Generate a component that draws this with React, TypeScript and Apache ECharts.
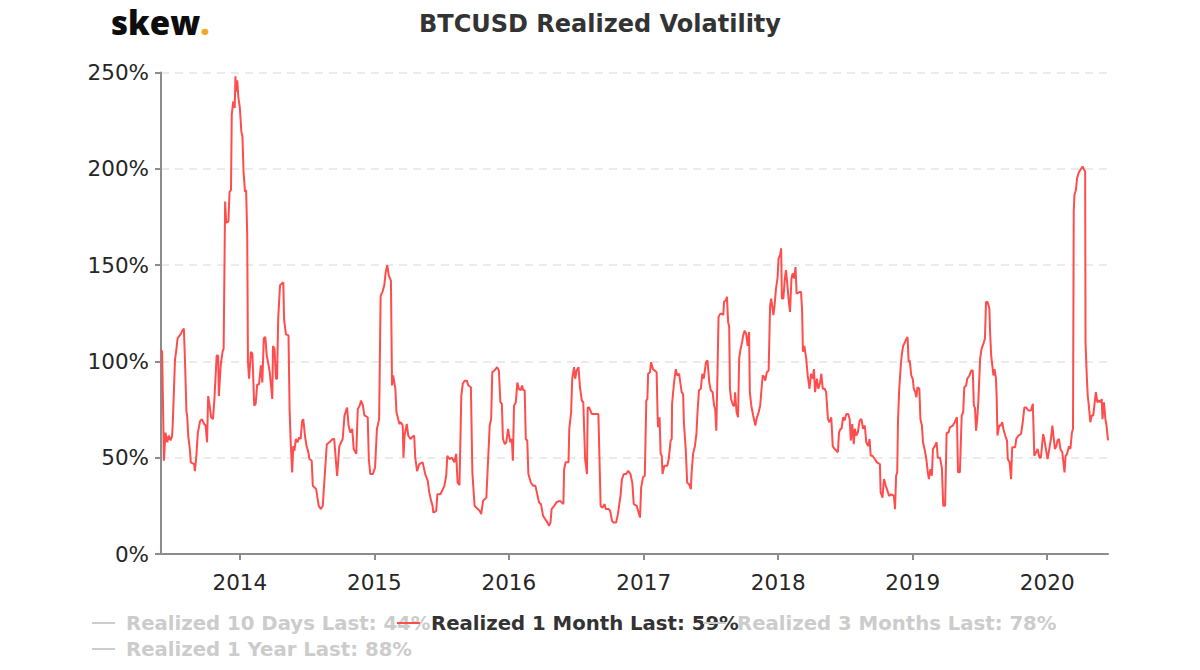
import React, { useEffect, useRef } from "react";
import * as echarts from "echarts";

const TITLE = "BTCUSD Realized Volatility";
const NAME_10D = "Realized 10 Days Last: 44%";
const NAME_1M = "Realized 1 Month Last: 59%";
const NAME_3M = "Realized 3 Months Last: 78%";
const NAME_1Y = "Realized 1 Year Last: 88%";

const yTicks = [0, 50, 100, 150, 200, 250];

// Realized 1 month volatility (%), by year
const vol2013: [string, number][] = [
  ["2013-06-01", 106], ["2013-06-04", 105], ["2013-06-09", 48.4], ["2013-06-13", 63], ["2013-06-18", 58],
  ["2013-06-22", 61.5], ["2013-06-27", 59], ["2013-07-01", 61], ["2013-07-03", 68], ["2013-07-09", 101],
  ["2013-07-12", 105], ["2013-07-16", 112], ["2013-07-24", 114], ["2013-07-29", 116], ["2013-08-02", 117],
  ["2013-08-05", 101], ["2013-08-09", 74], ["2013-08-11", 72], ["2013-08-14", 61], ["2013-08-18", 55],
  ["2013-08-21", 47.6], ["2013-08-30", 46.7], ["2013-09-01", 43], ["2013-09-05", 51], ["2013-09-09", 63],
  ["2013-09-15", 69], ["2013-09-20", 70], ["2013-09-26", 67.5], ["2013-09-30", 66.7], ["2013-10-04", 58],
  ["2013-10-07", 82], ["2013-10-11", 77], ["2013-10-15", 71], ["2013-10-20", 70], ["2013-10-24", 80.5],
  ["2013-10-30", 103], ["2013-11-03", 103], ["2013-11-05", 82], ["2013-11-10", 98], ["2013-11-15", 105],
  ["2013-11-18", 106.6], ["2013-11-22", 183], ["2013-11-25", 172], ["2013-12-01", 172.6], ["2013-12-04", 188],
  ["2013-12-08", 189], ["2013-12-10", 228], ["2013-12-14", 235], ["2013-12-18", 231.6], ["2013-12-20", 248],
  ["2013-12-22", 240], ["2013-12-25", 246], ["2013-12-28", 237],
];

const vol2014: [string, number][] = [
  ["2014-01-01", 231.6], ["2014-01-05", 219.4], ["2014-01-08", 216.8], ["2014-01-11", 198.6], ["2014-01-15", 188],
  ["2014-01-18", 189], ["2014-01-21", 165.6], ["2014-01-23", 99.7], ["2014-01-26", 91], ["2014-01-31", 105],
  ["2014-02-04", 104], ["2014-02-09", 77], ["2014-02-13", 78], ["2014-02-17", 88], ["2014-02-22", 88],
  ["2014-02-27", 98], ["2014-03-03", 89], ["2014-03-07", 112], ["2014-03-11", 112.7], ["2014-03-15", 103],
  ["2014-03-20", 98], ["2014-03-23", 94.4], ["2014-03-30", 80.5], ["2014-04-01", 108], ["2014-04-05", 106.6],
  ["2014-04-09", 91], ["2014-04-12", 91], ["2014-04-15", 122], ["2014-04-20", 139.6], ["2014-04-25", 140.5],
  ["2014-04-29", 141], ["2014-05-01", 122], ["2014-05-06", 114], ["2014-05-13", 113.5], ["2014-05-16", 75],
  ["2014-05-19", 58], ["2014-05-23", 42.4], ["2014-05-26", 56], ["2014-05-29", 53.6], ["2014-06-02", 59.7],
  ["2014-06-06", 58], ["2014-06-11", 60.6], ["2014-06-15", 59.7], ["2014-06-19", 69], ["2014-06-22", 70],
  ["2014-06-27", 61], ["2014-07-01", 56], ["2014-07-05", 53.6], ["2014-07-09", 49.3], ["2014-07-15", 48.4],
  ["2014-07-18", 35.4], ["2014-07-27", 33.7], ["2014-08-03", 25], ["2014-08-09", 23.3], ["2014-08-14", 25],
  ["2014-08-18", 37], ["2014-08-25", 57], ["2014-09-01", 58], ["2014-09-10", 59.7], ["2014-09-14", 59.7],
  ["2014-09-22", 40.6], ["2014-09-28", 56], ["2014-10-03", 58], ["2014-10-07", 59.7], ["2014-10-12", 72],
  ["2014-10-19", 76], ["2014-10-23", 66.7], ["2014-10-28", 63], ["2014-11-02", 65], ["2014-11-06", 54.5],
  ["2014-11-13", 52], ["2014-11-17", 75.3], ["2014-11-22", 77], ["2014-11-26", 79.7], ["2014-12-01", 77],
  ["2014-12-05", 72], ["2014-12-14", 71], ["2014-12-17", 49.3], ["2014-12-21", 41.5], ["2014-12-28", 41.5],
];

const vol2015: [string, number][] = [
  ["2015-01-03", 45], ["2015-01-08", 65], ["2015-01-14", 70], ["2015-01-18", 134], ["2015-01-23", 136],
  ["2015-01-28", 139.6], ["2015-02-01", 146.5], ["2015-02-05", 150], ["2015-02-09", 144.8], ["2015-02-15", 142],
  ["2015-02-18", 87.5], ["2015-02-21", 92.7], ["2015-02-27", 85.8], ["2015-03-02", 73.6], ["2015-03-10", 67.5],
  ["2015-03-14", 68.4], ["2015-03-19", 66.7], ["2015-03-21", 50], ["2015-03-24", 61.5], ["2015-03-30", 67.5],
  ["2015-04-03", 61.5], ["2015-04-09", 59.7], ["2015-04-13", 60.6], ["2015-04-19", 61.5], ["2015-04-22", 50],
  ["2015-04-27", 43], ["2015-05-03", 46.7], ["2015-05-12", 47.6], ["2015-05-19", 41.5], ["2015-05-26", 38],
  ["2015-05-30", 32], ["2015-06-04", 27.6], ["2015-06-08", 25], ["2015-06-10", 21.5], ["2015-06-18", 22.4],
  ["2015-06-21", 31], ["2015-06-29", 31], ["2015-07-04", 32.8], ["2015-07-10", 35.4], ["2015-07-15", 40.6],
  ["2015-07-18", 51], ["2015-07-24", 49.3], ["2015-07-31", 50], ["2015-08-06", 47.6], ["2015-08-11", 52],
  ["2015-08-15", 37], ["2015-08-20", 35.8], ["2015-08-25", 82], ["2015-08-29", 88.4], ["2015-09-03", 90],
  ["2015-09-09", 90], ["2015-09-13", 87.5], ["2015-09-20", 86.6], ["2015-09-24", 42.4], ["2015-09-30", 25],
  ["2015-10-05", 24], ["2015-10-14", 22.4], ["2015-10-18", 20.7], ["2015-10-23", 27.6], ["2015-11-01", 29.3],
  ["2015-11-05", 45.8], ["2015-11-10", 66.7], ["2015-11-14", 70], ["2015-11-17", 94.4], ["2015-11-23", 95.3],
  ["2015-11-30", 97], ["2015-12-05", 95.3], ["2015-12-09", 78.8], ["2015-12-13", 78], ["2015-12-16", 59.7],
  ["2015-12-21", 57], ["2015-12-25", 58], ["2015-12-30", 65],
];

const vol2016: [string, number][] = [
  ["2016-01-01", 62.3], ["2016-01-05", 58], ["2016-01-09", 59.7], ["2016-01-12", 48.4], ["2016-01-15", 77],
  ["2016-01-20", 78.8], ["2016-01-24", 89], ["2016-01-28", 85.8], ["2016-02-02", 85], ["2016-02-06", 87.5],
  ["2016-02-09", 85], ["2016-02-13", 85], ["2016-02-16", 59.7], ["2016-02-20", 58.9], ["2016-02-23", 41.5],
  ["2016-03-01", 37], ["2016-03-07", 35.4], ["2016-03-13", 35.4], ["2016-03-17", 32], ["2016-03-23", 26.7],
  ["2016-03-28", 25.9], ["2016-04-03", 19.8], ["2016-04-09", 18], ["2016-04-15", 16.3], ["2016-04-19", 14.6],
  ["2016-04-23", 16.3], ["2016-04-26", 23.3], ["2016-05-03", 25], ["2016-05-10", 27], ["2016-05-19", 27.6],
  ["2016-05-28", 25.9], ["2016-05-30", 44], ["2016-06-03", 47.6], ["2016-06-11", 47.6], ["2016-06-13", 65],
  ["2016-06-18", 73.6], ["2016-06-21", 91], ["2016-06-26", 97], ["2016-06-29", 91], ["2016-07-03", 95.3],
  ["2016-07-08", 97], ["2016-07-12", 86.6], ["2016-07-17", 79.7], ["2016-07-21", 78.8], ["2016-07-26", 49.3],
  ["2016-07-31", 41.5], ["2016-08-02", 76], ["2016-08-06", 76], ["2016-08-13", 72.7], ["2016-08-31", 72.7],
  ["2016-09-03", 49.3], ["2016-09-06", 25], ["2016-09-11", 24], ["2016-09-17", 25.9], ["2016-09-20", 23.3],
  ["2016-09-28", 23.3], ["2016-10-02", 22.4], ["2016-10-07", 17.2], ["2016-10-11", 16.3], ["2016-10-18", 16.3],
  ["2016-10-23", 20.7], ["2016-10-30", 30.2], ["2016-11-03", 38.9], ["2016-11-08", 41.5], ["2016-11-14", 41.5],
  ["2016-11-20", 43.2], ["2016-11-26", 41.5], ["2016-12-01", 37], ["2016-12-05", 25.9], ["2016-12-13", 25],
  ["2016-12-22", 18.9], ["2016-12-25", 34.5], ["2016-12-30", 39.8],
];

const vol2017: [string, number][] = [
  ["2017-01-04", 40.6], ["2017-01-08", 79.7], ["2017-01-11", 80.5], ["2017-01-13", 93.6], ["2017-01-18", 94.4],
  ["2017-01-21", 99.6], ["2017-01-26", 96], ["2017-01-31", 95.3], ["2017-02-05", 94.4], ["2017-02-08", 70],
  ["2017-02-09", 65.8], ["2017-02-13", 71], ["2017-02-16", 52], ["2017-02-19", 51], ["2017-02-21", 41.5],
  ["2017-02-26", 45.8], ["2017-03-06", 45.8], ["2017-03-10", 49.3], ["2017-03-15", 58.9], ["2017-03-18", 59.7],
  ["2017-03-19", 78], ["2017-03-24", 88.4], ["2017-03-29", 96], ["2017-04-02", 92.7], ["2017-04-07", 93.6],
  ["2017-04-14", 84], ["2017-04-18", 83], ["2017-04-20", 68.4], ["2017-04-25", 54.5], ["2017-04-29", 37],
  ["2017-05-04", 36.3], ["2017-05-09", 33.7], ["2017-05-11", 42.4], ["2017-05-15", 52], ["2017-05-20", 56],
  ["2017-05-24", 62.3], ["2017-05-27", 73.6], ["2017-05-31", 85], ["2017-06-05", 85.8], ["2017-06-09", 93.6],
  ["2017-06-13", 91], ["2017-06-19", 99.6], ["2017-06-23", 100.5], ["2017-06-28", 89], ["2017-07-02", 85],
  ["2017-07-07", 84], ["2017-07-11", 77], ["2017-07-14", 75.3], ["2017-07-17", 64], ["2017-07-20", 91.8],
  ["2017-07-23", 123], ["2017-07-28", 124.8], ["2017-08-01", 124.8], ["2017-08-05", 124], ["2017-08-07", 131],
  ["2017-08-12", 131.8], ["2017-08-15", 133.5], ["2017-08-18", 120.5], ["2017-08-21", 118], ["2017-08-23", 85.8],
  ["2017-08-26", 80.5], ["2017-09-01", 77], ["2017-09-04", 77], ["2017-09-06", 84], ["2017-09-10", 73.6],
  ["2017-09-14", 71], ["2017-09-17", 101.4], ["2017-09-21", 106.6], ["2017-09-25", 110], ["2017-09-28", 113.5],
  ["2017-10-02", 116], ["2017-10-06", 114.4], ["2017-10-10", 108], ["2017-10-14", 115.3], ["2017-10-16", 84],
  ["2017-10-20", 77], ["2017-10-25", 71.9], ["2017-10-31", 66.7], ["2017-11-03", 70], ["2017-11-09", 73.6],
  ["2017-11-13", 77], ["2017-11-16", 84], ["2017-11-20", 92.7], ["2017-11-24", 91.8], ["2017-11-27", 90],
  ["2017-12-01", 94.4], ["2017-12-06", 95.3], ["2017-12-10", 129], ["2017-12-13", 132.6], ["2017-12-19", 124],
  ["2017-12-22", 129], ["2017-12-26", 137.8], ["2017-12-30", 143],
];

const vol2018: [string, number][] = [
  ["2018-01-02", 153.5], ["2018-01-06", 155.2], ["2018-01-09", 158.7], ["2018-01-11", 132.6], ["2018-01-15", 132.6],
  ["2018-01-19", 143], ["2018-01-22", 147.4], ["2018-01-26", 139.6], ["2018-01-29", 132.6], ["2018-02-02", 125.7],
  ["2018-02-06", 143], ["2018-02-09", 145.7], ["2018-02-13", 143], ["2018-02-17", 149], ["2018-02-20", 135.2],
  ["2018-02-28", 136], ["2018-03-04", 136], ["2018-03-07", 125.7], ["2018-03-09", 105], ["2018-03-13", 108],
  ["2018-03-18", 101.4], ["2018-03-22", 92.7], ["2018-03-27", 85.8], ["2018-03-31", 93.6], ["2018-04-05", 91],
  ["2018-04-08", 96], ["2018-04-11", 84], ["2018-04-16", 91], ["2018-04-20", 85.8], ["2018-04-25", 89.2],
  ["2018-04-28", 93.6], ["2018-05-02", 85.8], ["2018-05-07", 85.8], ["2018-05-11", 84], ["2018-05-16", 70],
  ["2018-05-20", 68.4], ["2018-05-25", 71], ["2018-05-29", 56], ["2018-06-03", 54.5], ["2018-06-08", 53.6],
  ["2018-06-12", 52.8], ["2018-06-15", 63], ["2018-06-19", 65], ["2018-06-22", 65], ["2018-06-26", 71],
  ["2018-06-30", 69.3], ["2018-07-05", 72.7], ["2018-07-10", 72.7], ["2018-07-14", 70], ["2018-07-17", 58.9],
  ["2018-07-21", 67.5], ["2018-07-25", 57], ["2018-07-28", 65], ["2018-08-01", 61.5], ["2018-08-05", 63],
  ["2018-08-10", 69.3], ["2018-08-15", 70], ["2018-08-19", 65], ["2018-08-24", 66.7], ["2018-08-28", 58],
  ["2018-09-02", 56], ["2018-09-06", 59.7], ["2018-09-09", 51], ["2018-09-14", 51], ["2018-09-20", 49.3],
  ["2018-09-26", 47.6], ["2018-10-04", 46.7], ["2018-10-06", 32], ["2018-10-11", 29.3], ["2018-10-15", 38.9],
  ["2018-10-20", 35.4], ["2018-10-23", 33.7], ["2018-10-29", 30.2], ["2018-11-04", 31], ["2018-11-11", 30.2],
  ["2018-11-14", 23.3], ["2018-11-17", 40.6], ["2018-11-20", 42.4], ["2018-11-22", 68.4], ["2018-11-25", 84],
  ["2018-11-29", 96], ["2018-12-02", 103], ["2018-12-06", 108], ["2018-12-11", 110], ["2018-12-15", 111.8],
  ["2018-12-18", 112.7], ["2018-12-21", 99.6], ["2018-12-24", 100.5], ["2018-12-28", 92.7],
];

const vol2019: [string, number][] = [
  ["2019-01-01", 91], ["2019-01-04", 85.8], ["2019-01-08", 84], ["2019-01-11", 81.4], ["2019-01-14", 86.6],
  ["2019-01-19", 85.8], ["2019-01-22", 70], ["2019-01-26", 66.7], ["2019-01-29", 58], ["2019-02-03", 53.6],
  ["2019-02-07", 49.3], ["2019-02-11", 42.4], ["2019-02-14", 38.9], ["2019-02-18", 44], ["2019-02-22", 40.6],
  ["2019-02-25", 54.5], ["2019-03-02", 56], ["2019-03-07", 58], ["2019-03-10", 50], ["2019-03-16", 50],
  ["2019-03-21", 45], ["2019-03-25", 25], ["2019-03-30", 25], ["2019-04-03", 63], ["2019-04-08", 63],
  ["2019-04-12", 65.8], ["2019-04-20", 66.7], ["2019-04-25", 68.4], ["2019-05-01", 71], ["2019-05-04", 42.4],
  ["2019-05-09", 42.4], ["2019-05-14", 71.9], ["2019-05-18", 73.6], ["2019-05-21", 86.6], ["2019-05-26", 87.5],
  ["2019-05-29", 91], ["2019-06-04", 92.7], ["2019-06-09", 95.3], ["2019-06-13", 95.3], ["2019-06-16", 77],
  ["2019-06-19", 76], ["2019-06-22", 64], ["2019-06-25", 70], ["2019-06-28", 78.8], ["2019-07-03", 101.4],
  ["2019-07-07", 106.6], ["2019-07-12", 109.2], ["2019-07-16", 111.8], ["2019-07-19", 130.9], ["2019-07-23", 130.9],
  ["2019-07-28", 127.4], ["2019-07-30", 115.3], ["2019-08-02", 103], ["2019-08-05", 98], ["2019-08-08", 92.7],
  ["2019-08-11", 96], ["2019-08-15", 91], ["2019-08-17", 80.5], ["2019-08-19", 61.5], ["2019-08-24", 66.7],
  ["2019-08-28", 66.7], ["2019-09-01", 68.4], ["2019-09-04", 65], ["2019-09-09", 61.5], ["2019-09-14", 58.9],
  ["2019-09-16", 49.3], ["2019-09-21", 47.6], ["2019-09-25", 38.9], ["2019-09-28", 55.4], ["2019-10-06", 55.4],
  ["2019-10-09", 59.7], ["2019-10-15", 61.5], ["2019-10-22", 62.3], ["2019-10-26", 67.5], ["2019-10-31", 76],
  ["2019-11-05", 76], ["2019-11-11", 74.5], ["2019-11-18", 74.5], ["2019-11-23", 78], ["2019-11-27", 51],
  ["2019-12-02", 52.8], ["2019-12-06", 54.5], ["2019-12-11", 50], ["2019-12-15", 50], ["2019-12-21", 62.3],
  ["2019-12-24", 59.7], ["2019-12-30", 52.8],
];

const vol2020: [string, number][] = [
  ["2020-01-02", 49.3], ["2020-01-08", 56], ["2020-01-11", 59.7], ["2020-01-15", 66.7], ["2020-01-19", 59.7],
  ["2020-01-22", 54.5], ["2020-01-26", 56], ["2020-01-29", 58.9], ["2020-02-02", 59.7], ["2020-02-06", 54.5],
  ["2020-02-11", 52.8], ["2020-02-13", 49.3], ["2020-02-17", 42.4], ["2020-02-20", 51], ["2020-02-24", 52],
  ["2020-02-29", 56], ["2020-03-04", 54.5], ["2020-03-08", 63], ["2020-03-11", 65], ["2020-03-13", 177.8],
  ["2020-03-15", 186.5], ["2020-03-19", 189], ["2020-03-22", 195], ["2020-03-26", 197.7], ["2020-03-31", 199.5],
  ["2020-04-06", 201.2], ["2020-04-10", 199.5], ["2020-04-13", 198.6], ["2020-04-14", 110], ["2020-04-17", 94.4],
  ["2020-04-20", 82.3], ["2020-04-23", 77], ["2020-04-27", 68.4], ["2020-05-01", 71.9], ["2020-05-05", 71.9],
  ["2020-05-09", 78.8], ["2020-05-12", 84], ["2020-05-16", 78.8], ["2020-05-20", 79.7], ["2020-05-25", 78.8],
  ["2020-05-28", 80.5], ["2020-05-30", 70], ["2020-06-03", 78.8], ["2020-06-07", 70], ["2020-06-10", 66.7],
  ["2020-06-14", 59],
];

const FONT = "DejaVu Sans";
const AXIS_COLOR = "#8c8c8c";
const LINE_COLOR = "#ff4d4d";
// line icon with a little trailing room so the label sits ~11px after it
const LINE_ICON = "path://M0,0H23V2H0Z M29,0H29.02V2H29Z";

export default function App() {
  const ref = useRef<HTMLDivElement>(null);

  useEffect(() => {
    if (!ref.current) return;
    const chart = echarts.init(ref.current, null, { renderer: "svg" });
    const oneMonth = [
      ...vol2013, ...vol2014, ...vol2015, ...vol2016, ...vol2017, ...vol2018, ...vol2019, ...vol2020,
    ];
    const selected: Record<string, boolean> = {
      [NAME_10D]: false,
      [NAME_1M]: true,
      [NAME_3M]: false,
      [NAME_1Y]: false,
    };
    const legendBase = {
      orient: "horizontal",
      padding: 0,
      icon: LINE_ICON,
      itemWidth: 29,
      itemHeight: 2,
      selected,
      inactiveColor: "#cccccc",
      textStyle: { fontFamily: FONT, fontWeight: "bold", fontSize: 19.7, color: "#333333" },
    };
    const option: any = {
      animation: false,
      backgroundColor: "#ffffff",
      title: [
        {
          text: TITLE,
          left: "center",
          top: 7,
          textStyle: { fontFamily: FONT, fontWeight: "bold", fontSize: 24, color: "#333333" },
        },
        {
          text: "{a|skew}{b|.}",
          left: 111,
          top: 6,
          padding: 0,
          textStyle: {
            lineHeight: 33,
            rich: {
              a: { fontFamily: "Open Sans", fontWeight: 800, fontSize: 33, lineHeight: 33, color: "#0d0d0d" },
              b: { fontFamily: "Open Sans", fontWeight: 800, fontSize: 33, lineHeight: 33, color: "#f5a623" },
            },
          },
        },
      ],
      legend: [
        { ...legendBase, data: [NAME_10D], left: 92, top: 613 },
        { ...legendBase, data: [NAME_1M], left: 397, top: 613 },
        { ...legendBase, data: [NAME_3M], left: 703, top: 613 },
        { ...legendBase, data: [NAME_1Y], left: 92, top: 639 },
      ],
      grid: { left: 161, right: 92, top: 72.5, bottom: 116, containLabel: false },
      xAxis: {
        type: "time",
        min: "dataMin",
        max: "dataMax",
        splitNumber: 7,
        axisLine: { show: true, lineStyle: { color: AXIS_COLOR, width: 2 } },
        axisTick: { show: true, length: 6, lineStyle: { color: AXIS_COLOR, width: 2 } },
        splitLine: { show: false },
        axisLabel: {
          formatter: "{yyyy}",
          fontFamily: FONT,
          fontSize: 21.5,
          color: "#262626",
          margin: 17,
          showMinLabel: false,
          showMaxLabel: false,
        },
      },
      yAxis: {
        type: "value",
        min: yTicks[0],
        max: yTicks[yTicks.length - 1],
        interval: 50,
        axisLine: { show: true, lineStyle: { color: AXIS_COLOR, width: 2 } },
        axisTick: { show: true, length: 6, lineStyle: { color: AXIS_COLOR, width: 2 } },
        splitLine: { show: true, lineStyle: { color: "#ebebeb", width: 2, type: [8, 6] } },
        axisLabel: {
          formatter: "{value}%",
          fontFamily: FONT,
          fontSize: 21.5,
          color: "#262626",
          margin: 12,
        },
      },
      series: [
        { name: NAME_10D, type: "line", data: [], showSymbol: false, color: "#7cb5ec" },
        {
          name: NAME_1M,
          type: "line",
          data: oneMonth,
          showSymbol: false,
          color: LINE_COLOR,
          lineStyle: { color: LINE_COLOR, width: 2 },
          emphasis: { disabled: true },
        },
        { name: NAME_3M, type: "line", data: [], showSymbol: false, color: "#90ed7d" },
        { name: NAME_1Y, type: "line", data: [], showSymbol: false, color: "#f7a35c" },
      ],
    };
    chart.setOption(option);
    return () => chart.dispose();
  }, []);

  return (
    <div
      ref={ref}
      style={{ position: "fixed", left: 0, top: 0, width: 1200, height: 670, background: "#fff" }}
    />
  );
}
